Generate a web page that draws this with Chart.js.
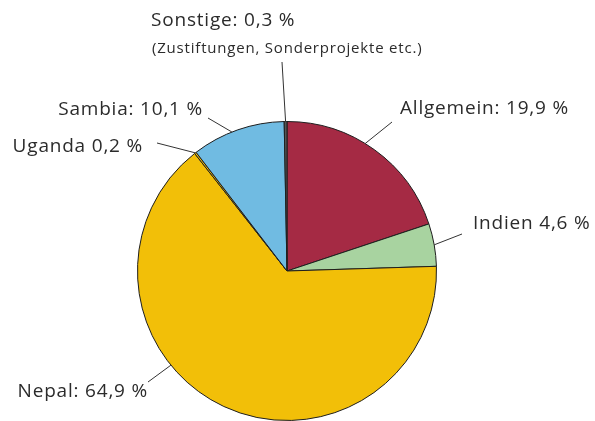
<!DOCTYPE html>
<html>
<head>
<meta charset="utf-8">
<script src="https://cdn.jsdelivr.net/npm/chart.js@4"></script>
<style>
  body { margin: 0; background: #ffffff; }
  #wrap { width: 595px; height: 421px; position: relative; }
</style>
</head>
<body>
<div id="wrap"><canvas id="pieChart"></canvas></div>
<script>
// Slices clockwise from 12 o'clock
const categories = ['Allgemein', 'Indien', 'Nepal', 'Uganda', 'Sambia', 'Sonstige'];
const shares = [19.9, 4.6, 64.9, 0.2, 10.1, 0.3];
const labelTexts = ['Allgemein: 19,9 %', 'Indien 4,6 %', 'Nepal: 64,9 %', 'Uganda 0,2 %', 'Sambia: 10,1 %', 'Sonstige: 0,3 %'];
const sliceColors = ['#a52a44', '#a8d3a0', '#f2bf08', '#f2bf08', '#70bbe2', '#555555'];

// Where each label sits and where its leader line ends (f = position inside slice where the line touches)
const labelLayout = [
  { tx: 400, ty: 114, align: 'left',  lx: 392, ly: 122, f: 0.44 },
  { tx: 473, ty: 229, align: 'left',  lx: 462, ly: 234, f: 0.5 },
  { tx: 148, ty: 397, align: 'right', lx: 148, ly: 382, f: 0.611 },
  { tx: 143, ty: 152, align: 'right', lx: 157, ly: 143, f: 0.5 },
  { tx: 203, ty: 115, align: 'right', lx: 208, ly: 118, f: 0.435 },
  { tx: 151, ty: 26,  align: 'left',  lx: 282, ly: 62,  f: 0.5 }
];
const subNote = '(Zustiftungen, Sonderprojekte etc.)';

const FONT = "'Open Sans', sans-serif";

const calloutPlugin = {
  id: 'callouts',
  afterDraw(chart) {
    const ctx = chart.ctx;
    const arcs = chart.getDatasetMeta(0).data;
    ctx.save();
    ctx.strokeStyle = '#333333';
    ctx.lineWidth = 1;
    ctx.fillStyle = '#2b2b2b';
    ctx.textBaseline = 'alphabetic';
    ctx.letterSpacing = '0.8px';
    arcs.forEach((arc, i) => {
      const p = labelLayout[i];
      const a = arc.startAngle + p.f * (arc.endAngle - arc.startAngle);
      const ax = arc.x + arc.outerRadius * Math.cos(a);
      const ay = arc.y + arc.outerRadius * Math.sin(a);
      ctx.beginPath();
      ctx.moveTo(ax, ay);
      ctx.lineTo(p.lx, p.ly);
      ctx.stroke();
      ctx.font = '19px ' + FONT;
      ctx.textAlign = p.align;
      ctx.fillText(labelTexts[i], p.tx, p.ty);
    });
    ctx.font = '15px ' + FONT;
    ctx.textAlign = 'left';
    ctx.fillText(subNote, 152, 53);
    ctx.restore();
  }
};

new Chart(document.getElementById('pieChart'), {
  type: 'pie',
  data: {
    labels: categories,
    datasets: [{
      data: shares,
      backgroundColor: sliceColors,
      borderColor: '#1e1e1e',
      borderWidth: 1
    }]
  },
  options: {
    responsive: true,
    maintainAspectRatio: false,
    animation: false,
    layout: { padding: { left: 137, right: 158, top: 121, bottom: 0 } },
    plugins: {
      legend: { display: false },
      tooltip: { enabled: false }
    }
  },
  plugins: [calloutPlugin]
});
</script>
</body>
</html>
